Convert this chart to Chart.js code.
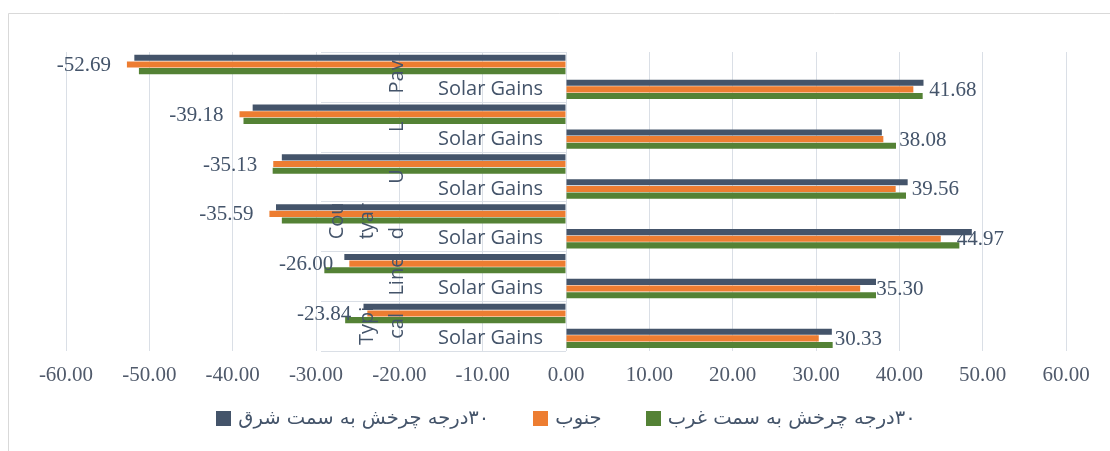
<!DOCTYPE html>
<html><head><meta charset="utf-8">
<script src="https://cdn.jsdelivr.net/npm/chart.js@4.4.1/dist/chart.umd.min.js"></script>
<style>html,body{margin:0;padding:0;background:#fff;overflow:hidden}#wrap{width:1110px;height:451px;position:relative}canvas{direction:ltr}</style>
</head><body><div id="wrap"><canvas id="c" width="1110" height="451"></canvas></div>
<script>
// ---- data ----
const categories = ['', 'Solar Gains', '', 'Solar Gains', '', 'Solar Gains', '', 'Solar Gains', '', 'Solar Gains', '', 'Solar Gains'];
const groupLabels = [['Pav'], ['L'], ['U'], ['Cour', 'tyar', 'd'], ['Line'], ['Typi', 'cal']];
const seriesNames = ['۳۰درجه چرخش به سمت شرق', 'جنوب', '۳۰درجه چرخش به سمت غرب'];
const eastValues  = [-51.80, 42.90, -37.60, 37.90, -34.10, 41.00, -34.80, 48.70, -26.60, 37.20, -24.30, 31.90];
const southValues = [-52.69, 41.68, -39.18, 38.08, -35.13, 39.56, -35.59, 44.97, -26.00, 35.30, -23.84, 30.33];
const westValues  = [-51.25, 42.80, -38.70, 39.60, -35.20, 40.80, -34.10, 47.20, -29.00, 37.20, -26.50, 32.00];
const xMin = -60, xMax = 60, xStep = 10;

const seriesColors = ['#44546A', '#ED7D31', '#548235'];
const gridColor = '#DADFE6';
const textColor = '#44546A';
const plotWidthPx = 1000;              // 66 .. 1066
const catLabelGapPx = 23;              // gap between category labels and the zero line
const catAxisValue = -catLabelGapPx * (xMax - xMin) / plotWidthPx;

const framePlugin = {
  id: 'frame',
  beforeDraw(chart) {
    const ctx = chart.ctx;
    ctx.save();
    ctx.fillStyle = '#fff';
    ctx.fillRect(0, 0, chart.width, chart.height);
    ctx.strokeStyle = '#D9D9D9';
    ctx.lineWidth = 1;
    ctx.beginPath();
    ctx.moveTo(8.5, chart.height); ctx.lineTo(8.5, 13.5); ctx.lineTo(chart.width, 13.5);
    ctx.stroke();
    ctx.restore();
  }
};

const groupPlugin = {
  id: 'groups',
  beforeDatasetsDraw(chart) {
    const ctx = chart.ctx, ys = chart.scales.y, xs = chart.scales.x;
    const ax = xs.getPixelForValue(0);
    const half = (ys.getPixelForValue(1) - ys.getPixelForValue(0)) / 2;
    ctx.save();
    ctx.strokeStyle = gridColor; ctx.lineWidth = 1;
    for (let g = 0; g <= groupLabels.length; g++) {
      const y = Math.round(g < groupLabels.length ? ys.getPixelForValue(2 * g) - half : ys.getPixelForValue(2 * g - 1) + half) + 0.5;
      ctx.beginPath(); ctx.moveTo(ax - 245, y); ctx.lineTo(ax, y); ctx.stroke();
    }
    ctx.restore();
  },
  afterDatasetsDraw(chart) {
    const ctx = chart.ctx, ys = chart.scales.y, xs = chart.scales.x;
    const ax = xs.getPixelForValue(0);
    const half = (ys.getPixelForValue(1) - ys.getPixelForValue(0)) / 2;
    groupLabels.forEach((lines, g) => {
      const top = ys.getPixelForValue(2 * g) - half;
      const bottom = ys.getPixelForValue(2 * g + 1) + half;
      const mid = (top + bottom) / 2;
      ctx.save();
      ctx.beginPath(); ctx.rect(ax - 250, top + 1, 250, bottom - top - 1); ctx.clip();
      ctx.direction = 'ltr';
      ctx.font = '20px "Open Sans"';
      ctx.fillStyle = textColor;
      ctx.textBaseline = 'middle';
      const wrapped = lines.length > 2;
      lines.forEach((t, j) => {
        const cx = ax - 169 - (lines.length - 1 - j) * 30;
        ctx.save();
        ctx.translate(cx, mid);
        ctx.rotate(-Math.PI / 2);
        ctx.textAlign = wrapped ? 'left' : 'center';
        ctx.fillText(t, wrapped ? -13 : 0, 0);
        ctx.restore();
      });
      ctx.restore();
    });
    const meta = chart.getDatasetMeta(1);
    ctx.save();
    ctx.direction = 'ltr';
    ctx.font = '21px "Liberation Serif"';
    ctx.fillStyle = textColor;
    ctx.textBaseline = 'middle';
    meta.data.forEach((el, i) => {
      const v = southValues[i];
      ctx.textAlign = v < 0 ? 'right' : 'left';
      ctx.fillText(v.toFixed(2), el.x + (v < 0 ? -16 : 16), el.y + 1);
    });
    ctx.restore();
  },
  afterDraw(chart) {
    // legend
    const ctx = chart.ctx, ca = chart.chartArea;
    ctx.save();
    ctx.font = '19.5px "DejaVu Sans"';
    const box = 15, boxGap = 7, itemGap = 44;
    const widths = seriesNames.map(n => ctx.measureText(n).width);
    const total = widths.reduce((s, w) => s + box + boxGap + w, 0) + itemGap * (seriesNames.length - 1);
    let x = (ca.left + ca.right) / 2 - total / 2;
    const yc = ca.bottom + 68;
    seriesNames.forEach((n, i) => {
      ctx.fillStyle = seriesColors[i];
      ctx.fillRect(Math.round(x), Math.round(yc - box / 2), box, box);
      ctx.fillStyle = textColor;
      ctx.direction = 'rtl';
      ctx.textAlign = 'right';
      ctx.textBaseline = 'middle';
      ctx.fillText(n, x + box + boxGap + widths[i], yc);
      x += box + boxGap + widths[i] + itemGap;
    });
    ctx.restore();
  }
};

new Chart(document.getElementById('c'), {
  type: 'bar',
  data: {
    labels: categories,
    datasets: [
      { label: seriesNames[0], data: eastValues, backgroundColor: seriesColors[0] },
      { label: seriesNames[1], data: southValues, backgroundColor: seriesColors[1] },
      { label: seriesNames[2], data: westValues, backgroundColor: seriesColors[2] }
    ]
  },
  options: {
    indexAxis: 'y',
    responsive: false,
    animation: false,
    devicePixelRatio: 1,
    categoryPercentage: 0.8,
    barPercentage: 0.92,
    layout: { padding: { left: 66, right: 44, top: 52, bottom: 51 } },
    scales: {
      x: {
        type: 'linear', min: xMin, max: xMax,
        ticks: { stepSize: xStep, color: '#505A6B', font: { family: 'Liberation Serif', size: 21 }, padding: 12, maxRotation: 0,
                 callback: v => Number(v).toFixed(2) },
        grid: { color: gridColor, drawTicks: false },
        border: { display: false }
      },
      y: {
        axis: 'y',
        position: { x: catAxisValue },
        ticks: { autoSkip: false, color: textColor, font: { family: 'Open Sans', size: 20 }, padding: 0 },
        grid: { display: false },
        border: { display: false }
      }
    },
    plugins: {
      legend: { display: false },
      tooltip: { enabled: false }
    }
  },
  plugins: [framePlugin, groupPlugin]
});
</script></body></html>
